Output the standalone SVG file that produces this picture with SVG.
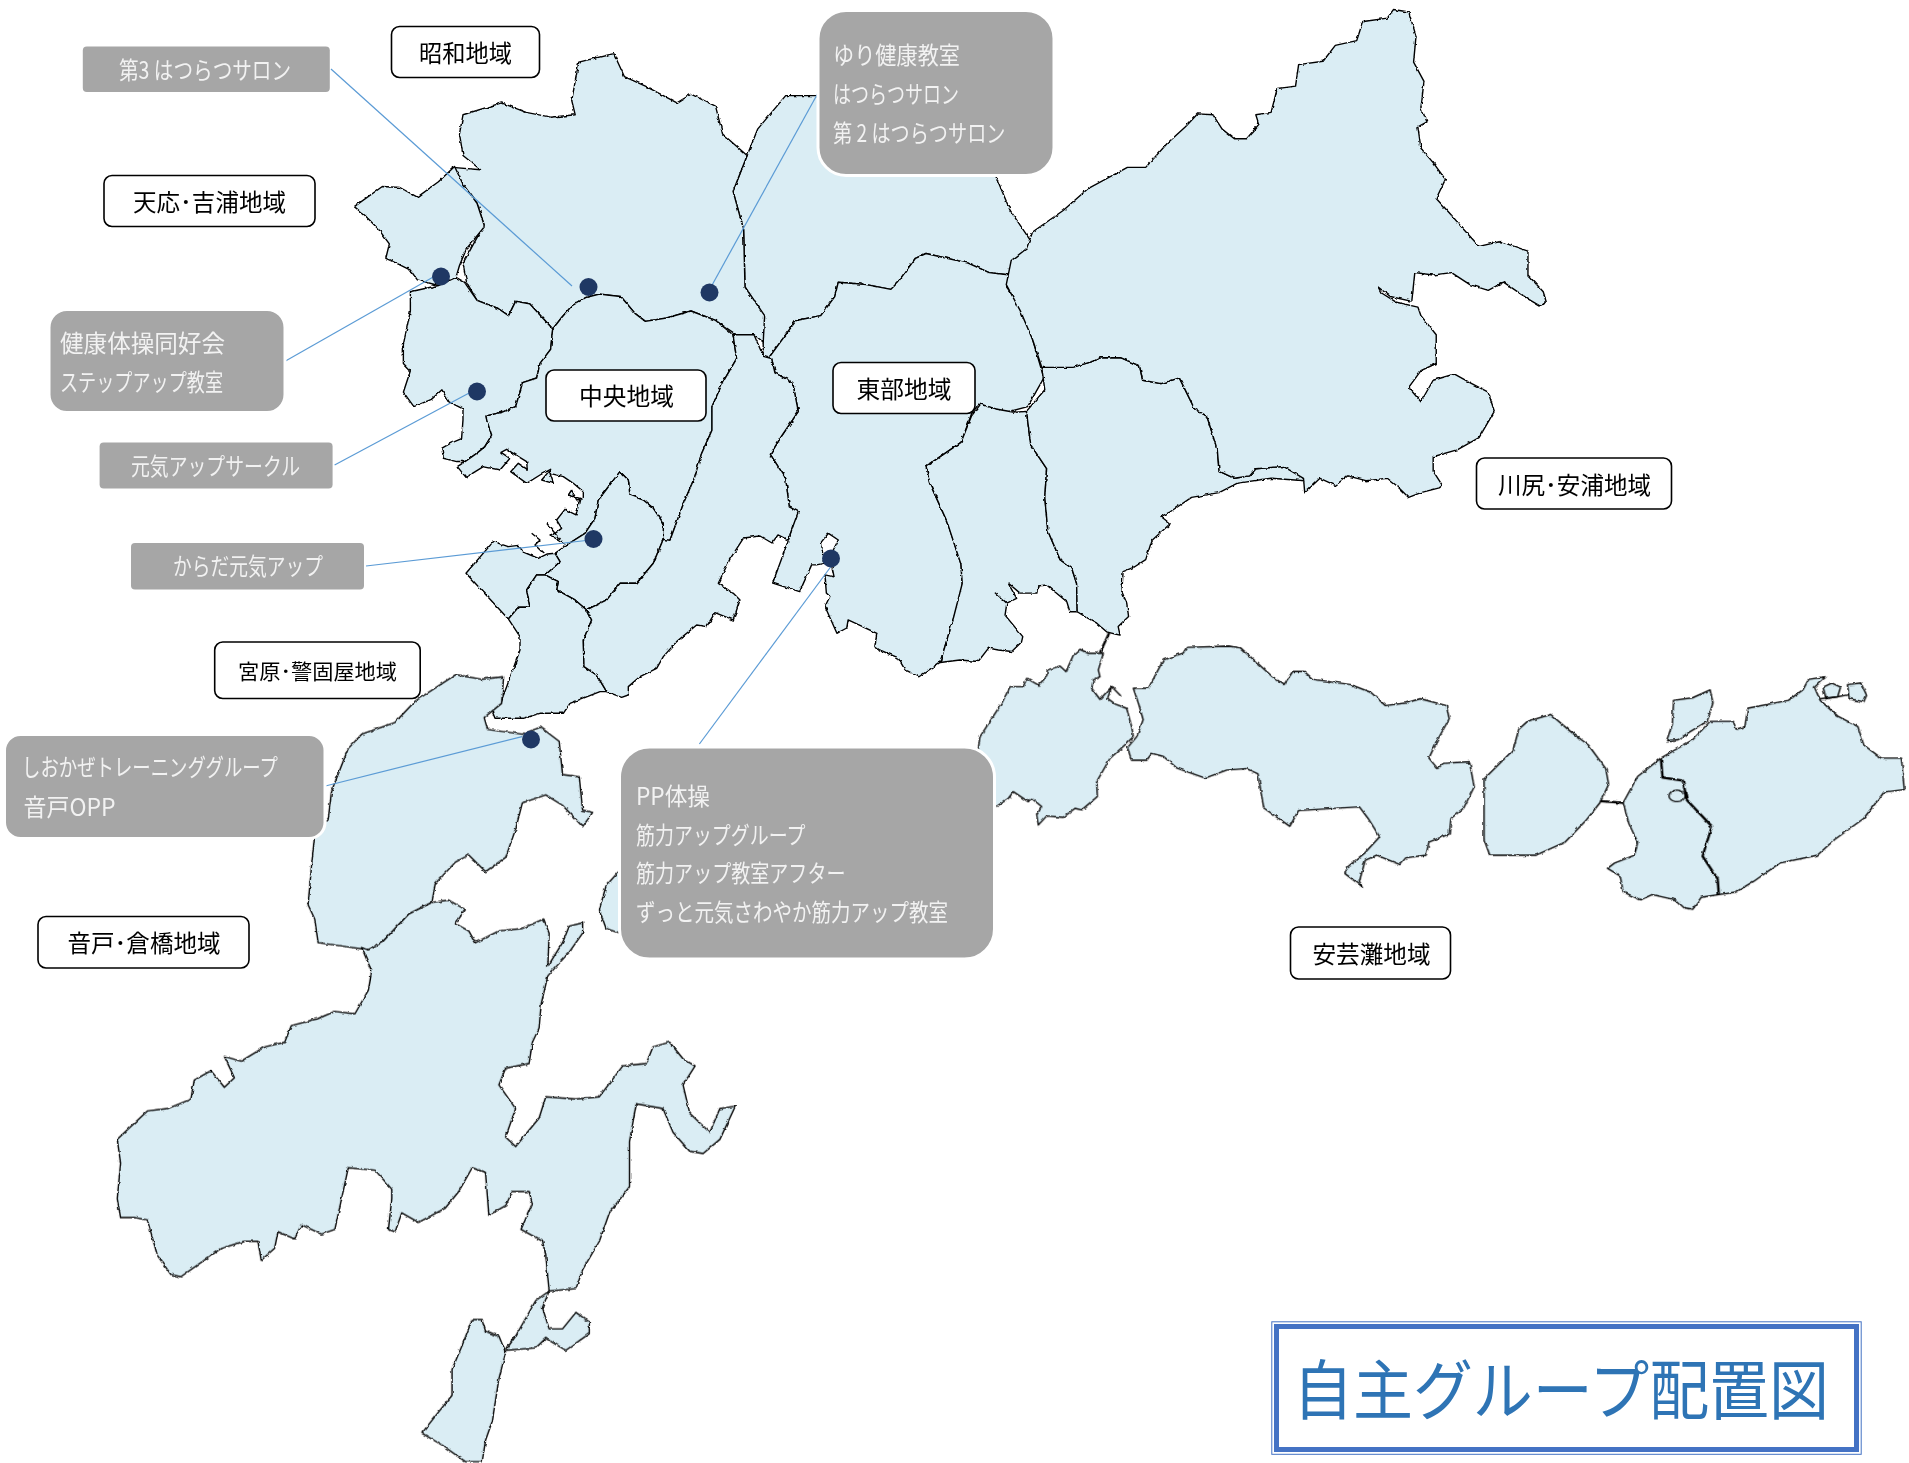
<svg xmlns="http://www.w3.org/2000/svg" width="1909" height="1463" viewBox="0 0 1909 1463">
<style>
.r{fill:#daedf4;stroke:#000;stroke-width:1.4;stroke-linejoin:round;vector-effect:non-scaling-stroke}
.o{fill:none;stroke:#000;stroke-width:1.4;stroke-linejoin:round;vector-effect:non-scaling-stroke}
.t{fill:none;stroke:#000;stroke-width:2.4;stroke-linejoin:round;vector-effect:non-scaling-stroke}
.c{stroke:#5b9bd5;stroke-width:1.2;fill:none}
.d{fill:#1f3864}
.g{fill:#a6a6a6}
.gw{fill:#a6a6a6;stroke:#fff;stroke-width:3}
.l{fill:#fff;stroke:#000;stroke-width:1.6}
text{font-family:"Noto Sans CJK JP","Noto Sans",sans-serif;font-size:24px}
.w{fill:#f2f2f2}
.b{fill:#000}
</style>
<defs>
<filter id="rough" filterUnits="userSpaceOnUse" x="0" y="0" width="1909" height="1463">
<feTurbulence type="fractalNoise" baseFrequency="0.2" numOctaves="2" seed="4" result="n"/>
<feDisplacementMap in="SourceGraphic" in2="n" scale="3" xChannelSelector="R" yChannelSelector="G"/>
</filter>
</defs>
<g id="map" filter="url(#rough)">
<g id="map-north" transform="matrix(0.7015 0 0 0.4783 0 0)">
<polygon class="r" points="1065,325 1080,270 1120,200 1168,200 1195,190 1195,60 1400,60 1420,370 1440,440 1470,505 1440,575 1410,570 1380,550 1320,530 1305,540 1280,590 1270,605 1235,595 1195,590 1190,620 1170,660 1135,670 1115,710 1095,750 1088,745 1088,660 1062,600 1060,480 1045,400"/>
<polygon class="r" points="660,240 715,215 750,235 785,245 820,240 815,210 825,130 875,112 890,160 920,180 965,215 985,197 1020,222 1030,280 1065,325 1045,400 1060,480 1062,600 1090,660 1088,715 1075,700 1050,700 1020,670 985,650 950,665 920,672 905,655 885,620 855,615 835,622 815,640 800,665 788,688 755,635 735,630 725,660 710,645 680,628 665,590 660,550 690,470 680,425 650,370 645,350 685,355 660,325 655,280"/>
<polygon class="r" points="505,432 545,390 570,392 595,412 625,380 648,348 660,385 680,425 690,470 690,475 665,520 655,555 650,580 625,597 595,585 585,565 565,550 550,540 555,510 540,480 520,450"/>
<polygon class="r" points="585,610 625,597 650,580 662,590 680,628 710,645 725,660 735,630 755,635 788,688 785,730 770,760 765,790 745,800 735,850 715,862 693,870 694,878 701,910 691,934 680,948 663,965 651,965 632,958 630,937 642,927 658,917 660,878 660,855 640,840 630,815 615,835 590,850 575,820 585,775 575,760 575,720 585,650"/>
<polygon class="r" points="1440,575 1435,600 1455,640 1470,700 1488,790 1465,850 1435,862 1395,845 1385,865 1370,925 1320,975 1325,1010 1350,1090 1370,1180 1372,1230 1360,1290 1340,1385 1310,1415 1290,1400 1280,1375 1254,1359 1247,1352 1250,1324 1209,1296 1207,1313 1193,1324 1176,1268 1183,1247 1178,1240 1176,1202 1189,1206 1183,1164 1195,1129 1181,1115 1171,1133 1174,1178 1164,1181 1157,1181 1140,1237 1101.5,1219 1124,1129 1136,1070 1125,1060 1120,1000 1098,950 1115,910 1138,860 1130,800 1105,780 1100,750 1095,750 1115,710 1135,670 1170,660 1190,620 1195,590 1235,595 1270,605 1280,590 1305,540 1320,530 1380,550 1410,570"/>
</g>
<g id="map-central" transform="matrix(0.3333 0 0 0.3333 440 420)">
<polygon class="r" points="338,-273 364,-306 395,-342 437,-367 479,-378 543,-370 585,-320 616,-296 679,-306 753,-327 827,-299 879,-256 890,-184 848,-112 816,-40 816,31 784,103 763,175 732,247 690,361 670,358 670,310 640,265 610,240 570,225 565,180 540,155 475,240 465,295 435,340 380,375 355,360 330,345 345,340 365,325 350,300 375,268 408,285 420,235 385,225 395,210 410,240 430,235 430,215 400,190 370,170 330,160 340,190 305,180 332,148 300,165 260,190 212,155 235,130 262,148 260,125 200,88 183,97 210,115 180,150 130,140 78,172 52,140 75,125 110,100 135,80 155,45 140,0 138,-12 185,-23 227,-40 248,-112 290,-126 300,-170 332,-212"/>
<polygon class="r" points="540,155 475,240 465,295 435,340 380,375 345,400 360,425 315,465 355,485 350,510 405,540 440,570 500,540 540,490 590,490 640,430 670,358 670,310 640,265 610,240 570,225 565,180"/>
<polygon class="r" points="160,365 205,380 235,376 250,396 295,415 322,402 345,400 360,425 315,465 290,465 260,510 270,562 235,562 205,597 78,460"/>
<polygon class="r" points="290,465 315,465 355,485 350,510 405,540 440,570 455,600 430,660 432,740 470,765 500,815 480,815 390,850 370,880 300,880 250,895 165,895 155,870 185,840 200,800 240,690 240,650 205,597 235,562 270,562 260,510"/>
<polygon class="r" points="879,-256 942,-256 970,-191 995,-184 1005,-141 1058,-112 1075,-26 1026,46 991,103 1037,175 1048,261 1075,275 1044,360 1014,345 996,369 960,348 911,354 869,419 835,490 880,520 900,540 880,600 825,578 800,620 770,615 710,665 670,710 650,745 600,770 565,800 565,825 545,832 500,815 470,765 432,740 430,660 455,600 440,570 500,540 540,490 590,490 640,430 670,358 690,361 732,247 763,175 784,103 816,31 816,-40 848,-112 890,-184"/>
<polyline class="o" points="275,340 300,360 285,375 310,400"/>
<polyline class="o" points="320,310 345,340 360,360"/>
</g>
<g id="map-east" transform="matrix(0.6116 0 0 0.4783 950 0)">
<polygon class="r" points="35,870 50,845 75,855 105,862 125,860 132,930 158,980 155,1040 160,1110 180,1170 199,1188 207,1220 208,1279 196,1279 191,1258 158,1223 144,1225 142,1240 114.5,1240 95,1219 109,1251 93,1261 74,1240 93,1261 90,1286 119,1331 117,1342 101,1362 79,1359 63,1355 46,1383 16,1380 -16,1385 6,1290 20,1220 18,1180 -5,1090 -33,1010 -39,975 18,925"/>
<polygon class="r" points="150,768 200,768 235,755 245,748 280,748 310,765 315,795 345,802 375,790 400,855 420,870 437,940 440,985 465,1000 490,995 500,980 545,975 570,985 580,1005 525,1000 470,1010 440,1030 395,1040 360,1070 345,1080 360,1095 330,1130 320,1170 302,1185 283,1195 281,1237 289,1261 292,1289 275,1310 278,1328 256,1321 240,1303 221,1289 208,1279 207,1220 199,1188 180,1170 160,1110 155,1040 158,980 132,930 125,860 155,815"/>
<polygon class="r" points="92,595 100,545 125,520 135,485 185,440 225,395 290,350 320,350 355,300 385,265 405,238 430,240 445,270 465,290 485,290 505,260 500,240 525,235 535,185 565,180 570,135 610,128 630,95 665,85 675,45 715,38 725,20 750,25 762,75 758,130 775,170 770,225 780,255 765,265 770,310 790,340 810,375 795,415 820,450 840,480 865,515 900,505 945,525 945,575 970,610 975,632 965,640 945,625 905,590 880,607 850,595 820,570 790,575 760,570 755,630 720,620 700,600 705,612 730,632 765,642 770,660 795,700 795,760 770,775 750,810 770,840 790,795 825,782 850,800 880,820 890,860 865,915 830,940 790,955 790,985 805,1015 800,1020 770,1030 750,1040 730,1015 715,1000 680,1005 650,995 630,1015 605,1000 580,1030 578,1000 545,975 500,980 490,995 465,1000 440,985 437,940 420,870 400,855 375,790 345,802 315,795 310,765 280,748 245,748 235,755 200,768 150,768 135,710 115,650"/>
</g>
<g id="map-south" transform="matrix(0.6696 0 0 0.4739 0 720)">
<polygon class="r" points="925,318 905,350 895,400 905,440 925,450 940,440 940,330"/>
<polygon class="r" points="681,-96 718,-86 752,-91 749,-35 723,-5 728,20 780,30 807,15 835,45 840,115 865,120 870,190 885,195 870,225 840,180 815,158 780,175 770,230 755,290 725,320 700,285 680,300 650,345 645,385 610,410 570,470 550,485 525,480 475,470 470,420 460,390 465,310 470,240 490,210 495,150 520,60 540,30 590,5 620,-40"/>
<polygon class="r" points="645,385 670,380 695,400 680,430 700,445 710,470 745,445 780,440 812,420 820,450 818,520 840,470 850,435 870,428 870,450 850,490 818,540 808,600 805,650 795,680 790,725 755,735 745,770 770,820 755,880 770,900 805,840 815,795 860,800 895,795 930,730 965,725 975,690 1000,680 1020,715 1038,730 1020,770 1030,830 1060,870 1075,820 1098,815 1075,885 1050,915 1030,910 1005,870 990,820 950,810 940,890 940,985 910,1040 895,1100 870,1160 860,1200 820,1205 815,1130 810,1100 778,1075 795,1020 790,995 765,995 755,1025 730,1045 725,955 705,945 685,995 665,1030 625,1060 600,1040 590,1080 580,1075 585,1010 585,990 560,950 520,945 510,1010 500,1075 480,1085 450,1065 440,1095 415,1080 410,1115 390,1140 385,1100 365,1100 330,1115 270,1175 255,1170 235,1130 220,1055 200,1050 180,1050 175,1010 180,935 175,885 220,825 250,820 285,800 290,760 315,740 335,775 350,755 335,710 360,720 395,690 425,680 435,645 475,630 500,615 530,620 550,570 555,530 540,480 550,485 570,470 610,410"/>
<polygon class="r" points="820,1205 800,1225 770,1300 755,1330 800,1325 815,1305 845,1330 880,1295 880,1270 860,1250 840,1285 820,1285 810,1240"/>
<polygon class="r" points="705,1265 720,1265 725,1290 745,1300 755,1335 745,1390 735,1480 725,1520 720,1565 695,1565 660,1530 630,1505 655,1460 675,1425 675,1370 690,1320"/>
</g>
<g id="map-strait" transform="matrix(0.3333 0 0 0.3333 960 560)">
<polygon class="r" points="55,565 60,530 125,430 150,380 190,380 200,355 235,375 260,350 262,330 300,318 318,335 340,285 360,268 385,280 415,280 430,280 415,330 420,350 400,360 395,385 420,418 455,380 443,415 465,432 500,445 515,500 520,530 500,550 450,595 410,665 412,710 365,750 345,745 310,772 260,768 235,795 230,765 245,740 215,715 205,725 160,695 145,715 112,738 60,740 40,600"/>
<polyline class="o" points="455,380 483,408"/>
<polyline class="t" points="448,218 420,278"/>
</g>
<g id="map-islands" transform="matrix(0.5797 0 0 0.5249 1000 640)">
<polygon class="r" points="230,92 256,92 282,38 316,25 322,14 395,12 415,15 470,70 490,85 505,60 525,60 540,75 605,85 640,100 665,125 700,120 725,112 770,125 775,150 755,190 740,225 755,245 765,235 810,232 818,280 800,320 778,340 775,370 740,385 735,410 700,415 690,428 650,410 630,420 620,460 625,470 595,445 600,432 630,405 655,375 635,340 620,318 515,325 500,355 455,320 445,255 425,245 391,248 354,263 305,244 282,222 262,216 253,229 227,229 220,205 236,184 247,152 239,121"/>
<polygon class="r" points="835,265 885,210 895,170 910,155 950,142 985,175 1015,200 1045,245 1050,275 1035,310 1010,345 975,385 925,410 845,410 835,380"/>
<polyline class="t" points="1035,307 1075,310"/>
<polygon class="r" points="1075,310 1100,260 1140,225 1195,190 1225,155 1265,155 1270,170 1285,165 1290,130 1360,115 1385,95 1395,75 1425,70 1405,90 1415,115 1445,145 1480,165 1490,200 1520,225 1555,225 1560,285 1525,290 1490,340 1440,380 1410,410 1345,425 1300,460 1270,480 1240,485 1210,490 1195,513 1180,510 1165,495 1125,485 1105,495 1075,480 1070,450 1048,435 1060,425 1095,410 1100,385 1085,350"/>
<polyline class="t" points="1140,225 1143,262 1178,268 1185,305 1228,355 1212,412 1238,455 1240,485"/>
<ellipse class="r" cx="1168" cy="297" rx="14" ry="11"/>
<polygon class="r" points="1162,115 1195,110 1225,95 1230,120 1220,155 1190,175 1170,190 1150,192 1160,160"/>
<polygon class="r" points="1420,90 1435,82 1450,90 1445,108 1425,112"/>
<polygon class="r" points="1462,85 1485,82 1495,105 1490,118 1465,112"/>
<polyline class="o" points="1415,112 1445,108 1465,104"/>
</g>
</g>
<g id="connectors">
<line class="c" x1="331" y1="69" x2="572" y2="286"/>
<line class="c" x1="818" y1="93" x2="711" y2="287"/>
<line class="c" x1="285.5" y1="361" x2="435" y2="276"/>
<line class="c" x1="334.6" y1="465" x2="471" y2="392"/>
<line class="c" x1="366" y1="566" x2="586" y2="540.5"/>
<line class="c" x1="325.4" y1="786" x2="522" y2="736.6"/>
<line class="c" x1="699.4" y1="744" x2="830.6" y2="567"/>
</g>
<g id="dots">
<circle id="dot-1" class="d" cx="441" cy="276.5" r="9"/>
<circle id="dot-2" class="d" cx="477" cy="391.5" r="9"/>
<circle id="dot-3" class="d" cx="593.5" cy="539" r="9"/>
<circle id="dot-4" class="d" cx="588.5" cy="287" r="9"/>
<circle id="dot-5" class="d" cx="709.5" cy="292.5" r="9"/>
<circle id="dot-6" class="d" cx="831" cy="558.5" r="9"/>
<circle id="dot-7" class="d" cx="531" cy="739.5" r="9"/>
</g>
<g id="showa"><rect class="l" x="391.5" y="26.5" width="148" height="51" rx="8"/><text class="b" x="419" y="61.5" textLength="93" lengthAdjust="spacingAndGlyphs">昭和地域</text></g>
<g id="tenno"><rect class="l" x="104" y="175.5" width="211" height="51" rx="8"/><text class="b" x="133" y="210.5" textLength="153" lengthAdjust="spacingAndGlyphs">天応･吉浦地域</text></g>
<g id="chuo"><rect class="l" x="546" y="370" width="160" height="51" rx="8"/><text class="b" x="579" y="405" textLength="95" lengthAdjust="spacingAndGlyphs">中央地域</text></g>
<g id="tobu"><rect class="l" x="833" y="362.5" width="142" height="51" rx="8"/><text class="b" x="856.5" y="397.5" textLength="95" lengthAdjust="spacingAndGlyphs">東部地域</text></g>
<g id="kawajiri"><rect class="l" x="1476.5" y="458" width="195" height="51" rx="8"/><text class="b" x="1498" y="494" textLength="153" lengthAdjust="spacingAndGlyphs">川尻･安浦地域</text></g>
<g id="miyahara"><rect class="l" x="214.7" y="642" width="205.5" height="56.5" rx="8"/><text class="b" style="font-size:21px" x="238" y="678.5" textLength="159" lengthAdjust="spacingAndGlyphs">宮原･警固屋地域</text></g>
<g id="ondo"><rect class="l" x="38" y="916.5" width="211" height="51.5" rx="8"/><text class="b" x="67.5" y="952" textLength="153" lengthAdjust="spacingAndGlyphs">音戸･倉橋地域</text></g>
<g id="akinada"><rect class="l" x="1290.5" y="927" width="160" height="52" rx="8"/><text class="b" x="1312.5" y="963" textLength="118" lengthAdjust="spacingAndGlyphs">安芸灘地域</text></g>
<g id="dai3"><rect class="g" x="82.8" y="46.4" width="247" height="45.5" rx="4"/><text class="w" x="119" y="79" textLength="172" lengthAdjust="spacingAndGlyphs">第3 はつらつサロン</text></g>
<g id="yuri"><rect class="gw" x="818" y="10.5" width="236" height="165" rx="28"/>
<text class="w" x="833" y="63.5" textLength="127" lengthAdjust="spacingAndGlyphs">ゆり健康教室</text>
<text class="w" x="833" y="102.5" textLength="126" lengthAdjust="spacingAndGlyphs">はつらつサロン</text>
<text class="w" x="833" y="141.5" textLength="172.5" lengthAdjust="spacingAndGlyphs">第 2 はつらつサロン</text></g>
<g id="kenko"><rect class="gw" x="49" y="309.5" width="236" height="103" rx="18"/>
<text class="w" x="60" y="351.5" textLength="165" lengthAdjust="spacingAndGlyphs">健康体操同好会</text>
<text class="w" x="60" y="391" textLength="163" lengthAdjust="spacingAndGlyphs">ステップアップ教室</text></g>
<g id="genki"><rect class="g" x="99.6" y="442.4" width="233" height="46" rx="4"/><text class="w" x="131" y="475" textLength="169" lengthAdjust="spacingAndGlyphs">元気アップサークル</text></g>
<g id="karada"><rect class="g" x="131" y="543" width="233" height="46.5" rx="4"/><text class="w" x="173" y="575" textLength="150" lengthAdjust="spacingAndGlyphs">からだ元気アップ</text></g>
<g id="shiokaze"><rect class="gw" x="4.5" y="734.5" width="320.5" height="104" rx="16"/>
<text class="w" x="22" y="776" textLength="256" lengthAdjust="spacingAndGlyphs">しおかぜトレーニンググループ</text>
<text class="w" x="23.5" y="816" textLength="92" lengthAdjust="spacingAndGlyphs">音戸OPP</text></g>
<g id="pp"><rect class="gw" x="619.5" y="747" width="375" height="212" rx="30"/>
<text class="w" x="636" y="805" textLength="74" lengthAdjust="spacingAndGlyphs">PP体操</text>
<text class="w" x="636" y="843.5" textLength="169.5" lengthAdjust="spacingAndGlyphs">筋力アップグループ</text>
<text class="w" x="636" y="882" textLength="209.5" lengthAdjust="spacingAndGlyphs">筋力アップ教室アフター</text>
<text class="w" x="636" y="921" textLength="312" lengthAdjust="spacingAndGlyphs">ずっと元気さわやか筋力アップ教室</text></g>
<g id="title">
<rect x="1271.8" y="1321.8" width="589.4" height="132.5" fill="none" stroke="#4472c4" stroke-width="1"/>
<rect x="1276.5" y="1326.5" width="580" height="123" fill="#fff" stroke="#4472c4" stroke-width="5"/>
<text x="1293" y="1413.5" style="font-size:65px;fill:#2e74b5" textLength="536" lengthAdjust="spacingAndGlyphs">自主グループ配置図</text>
</g>
</svg>
